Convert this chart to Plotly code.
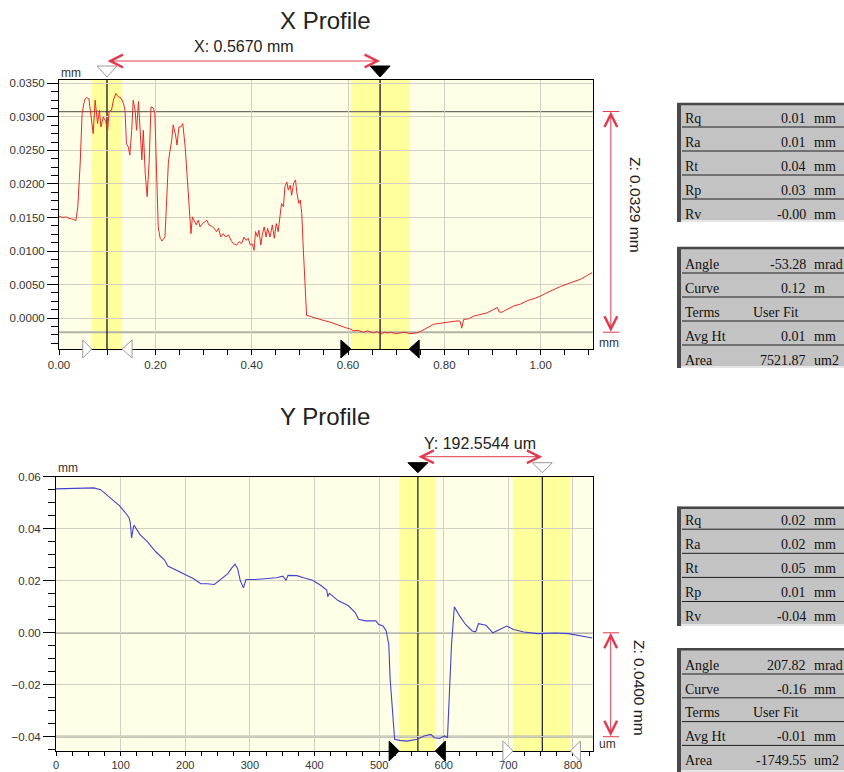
import plotly.graph_objects as go

W, H = 844, 772

# ---------------- data ----------------
x_pos_mm = [0.000, 0.008, 0.015, 0.019, 0.026, 0.031, 0.035, 0.039, 0.044, 0.048, 0.053, 0.057, 0.062, 0.066,
            0.071, 0.075, 0.080, 0.084, 0.087, 0.092, 0.097, 0.101, 0.104, 0.109, 0.113, 0.118, 0.123, 0.129,
            0.134, 0.137, 0.140, 0.144, 0.147, 0.151, 0.154, 0.158, 0.161, 0.165, 0.168, 0.172, 0.175, 0.179,
            0.183, 0.187, 0.191, 0.196, 0.199, 0.203, 0.206, 0.210, 0.214, 0.220, 0.224, 0.227, 0.230, 0.234,
            0.237, 0.242, 0.245, 0.249, 0.253, 0.257, 0.262, 0.266, 0.271, 0.274, 0.277, 0.281, 0.285, 0.289,
            0.293, 0.298, 0.303, 0.307, 0.311, 0.317, 0.322, 0.327, 0.331, 0.336, 0.341, 0.346, 0.352, 0.357,
            0.362, 0.369, 0.374, 0.379, 0.384, 0.388, 0.393, 0.397, 0.401, 0.405, 0.408, 0.412, 0.415, 0.419,
            0.422, 0.426, 0.430, 0.433, 0.438, 0.443, 0.447, 0.451, 0.455, 0.459, 0.462, 0.466, 0.469, 0.473,
            0.476, 0.480, 0.483, 0.487, 0.491, 0.494, 0.498, 0.501, 0.504, 0.507, 0.511, 0.514, 0.521, 0.527,
            0.532, 0.538, 0.545, 0.552, 0.559, 0.566, 0.573, 0.580, 0.587, 0.594, 0.604, 0.612, 0.620, 0.632,
            0.640, 0.653, 0.660, 0.668, 0.675, 0.681, 0.690, 0.698, 0.708, 0.718, 0.728, 0.736, 0.743, 0.750,
            0.757, 0.764, 0.771, 0.778, 0.788, 0.799, 0.809, 0.819, 0.828, 0.833, 0.836, 0.840, 0.850, 0.861,
            0.872, 0.880, 0.889, 0.900, 0.910, 0.914, 0.920, 0.930, 0.944, 0.958, 0.972, 0.986, 1.000, 1.013,
            1.027, 1.041, 1.055, 1.069, 1.083, 1.095, 1.107]
x_height_mm = [0.0152, 0.0150, 0.0151, 0.0149, 0.0148, 0.0147, 0.0145, 0.0166, 0.0231, 0.0305, 0.0325, 0.0329,
               0.0327, 0.0305, 0.0275, 0.0325, 0.0290, 0.0310, 0.0285, 0.0300, 0.0293, 0.0280, 0.0308, 0.0310,
               0.0325, 0.0335, 0.0330, 0.0328, 0.0320, 0.0310, 0.0260, 0.0255, 0.0243, 0.0280, 0.0325, 0.0310,
               0.0280, 0.0323, 0.0290, 0.0236, 0.0280, 0.0216, 0.0181, 0.0231, 0.0315, 0.0313, 0.0305, 0.0206,
               0.0136, 0.0119, 0.0115, 0.0121, 0.0181, 0.0231, 0.0248, 0.0265, 0.0288, 0.0273, 0.0258, 0.0285,
               0.0285, 0.0290, 0.0255, 0.0206, 0.0156, 0.0126, 0.0151, 0.0146, 0.0139, 0.0146, 0.0136, 0.0141,
               0.0144, 0.0146, 0.0139, 0.0137, 0.0134, 0.0129, 0.0134, 0.0121, 0.0126, 0.0121, 0.0124, 0.0116,
               0.0111, 0.0109, 0.0114, 0.0111, 0.0121, 0.0116, 0.0119, 0.0109, 0.0111, 0.0101, 0.0129, 0.0121,
               0.0131, 0.0109, 0.0124, 0.0136, 0.0121, 0.0134, 0.0121, 0.0139, 0.0119, 0.0141, 0.0129, 0.0151,
               0.0171, 0.0166, 0.0196, 0.0203, 0.0191, 0.0198, 0.0183, 0.0201, 0.0206, 0.0186, 0.0171, 0.0176,
               0.0156, 0.0106, 0.0046, 0.0004, 0.0003, 0.0001, 0.0000, -0.0001, -0.0003, -0.0004, -0.0005,
               -0.0007, -0.0008, -0.0011, -0.0013, -0.0014, -0.0016, -0.0019, -0.0018, -0.0021, -0.0019,
               -0.0022, -0.0020, -0.0024, -0.0021, -0.0022, -0.0021, -0.0023, -0.0022, -0.0021, -0.0023,
               -0.0023, -0.0022, -0.0020, -0.0017, -0.0014, -0.0011, -0.0009, -0.0008, -0.0007, -0.0006,
               -0.0005, -0.0004, -0.0005, -0.0015, -0.0002, -0.0001, 0.0003, 0.0005, 0.0006, 0.0008, 0.0012,
               0.0016, 0.0009, 0.0009, 0.0013, 0.0018, 0.0021, 0.0026, 0.0029, 0.0033, 0.0038, 0.0043, 0.0047,
               0.0051, 0.0055, 0.0058, 0.0063, 0.0068]

y_pos_um = [0, 15, 32, 45, 58.6, 69, 77, 88, 98.5, 106.5, 113, 115, 117, 120, 121, 130, 141, 154, 168, 173,
            186, 202, 213, 224, 234, 245, 255.5, 266, 271.5, 277, 281, 285, 290, 294, 309, 325, 341, 351, 356,
            359, 373, 383, 397, 410, 419, 420.5, 423, 436.5, 452.5, 463, 468, 479, 495, 499, 506, 511, 515,
            517, 520.5, 524, 532, 543, 559, 569.6, 580, 585.5, 593.5, 601.5, 605.8, 609.5, 612, 616.4, 622.8,
            633.5, 644, 649.4, 653.7, 665.4, 676, 686.7, 697.3, 708, 724, 745, 772, 793, 814, 830]
y_height_mm = [0.0554, 0.0555, 0.0556, 0.0557, 0.0558, 0.0551, 0.0534, 0.0508, 0.0489, 0.0465, 0.0443,
               0.0423, 0.0365, 0.0410, 0.0413, 0.0378, 0.0352, 0.0313, 0.0280, 0.0257, 0.0241, 0.0221,
               0.0208, 0.0189, 0.0189, 0.0186, 0.0208, 0.0228, 0.0248, 0.0264, 0.0248, 0.0202, 0.0173,
               0.0205, 0.0205, 0.0208, 0.0212, 0.0218, 0.0202, 0.0221, 0.0220, 0.0212, 0.0202, 0.0182,
               0.0165, 0.0139, 0.0152, 0.0124, 0.0104, 0.0078, 0.0052, 0.0046, 0.0046, 0.0033, 0.0026,
               0.0007, -0.0046, -0.0176, -0.0306, -0.0410, -0.0414, -0.0417, -0.0410, -0.0397, -0.0391,
               -0.0404, -0.0407, -0.0397, -0.0404, -0.0215, -0.0046, 0.0100, 0.0072, 0.0033, 0.0007,
               0.0004, 0.0035, 0.0029, 0.0000, 0.0013, 0.0026, 0.0013, 0.0003, -0.0003, -0.0001, -0.0003,
               -0.0013, -0.0020]

x_cursors = [0.0996, 0.6666]
x_bands = [(0.068, 0.131), (0.606, 0.727)]
x_refs = [0.0308, -0.0021]
x_delta_text = "X: 0.5670 mm"
x_z_text = "Z: 0.0329 mm"

y_cursors = [560.0, 752.55]
y_bands = [(531.0, 587.0), (707.0, 796.0)]
y_refs = [0.0, -0.0400]
y_delta_text = "Y: 192.5544 um"
y_z_text = "Z: 0.0400 mm"

x_stat_labels = ["Rq", "Ra", "Rt", "Rp", "Rv"]
x_stat_values = ["0.01", "0.01", "0.04", "0.03", "-0.00"]
x_stat_units = ["mm", "mm", "mm", "mm", "mm"]
x_fit_labels = ["Angle", "Curve", "Terms", "Avg Ht", "Area"]
x_fit_values = ["-53.28", "0.12", "User Fit", "0.01", "7521.87"]
x_fit_units = ["mrad", "m", "", "mm", "um2"]

y_stat_labels = ["Rq", "Ra", "Rt", "Rp", "Rv"]
y_stat_values = ["0.02", "0.02", "0.05", "0.01", "-0.04"]
y_stat_units = ["mm", "mm", "mm", "mm", "mm"]
y_fit_labels = ["Angle", "Curve", "Terms", "Avg Ht", "Area"]
y_fit_values = ["207.82", "-0.16", "User Fit", "-0.01", "-1749.55"]
y_fit_units = ["mrad", "mm", "", "mm", "um2"]

# ---------------- style ----------------
RED = "#E23A4E"
SANS = "Liberation Sans, Arial, sans-serif"
SERIF = "Liberation Serif, Times New Roman, serif"
PLOT_BG = "#FFFFE8"
BAND = "#FFFF9C"
GRID = "#CFCFC2"


def px(v):
    # window pixel x -> paper fraction
    return v / W


def py(v):
    # window pixel y -> paper fraction
    return 1 - v / H


fig = go.Figure()
fig.add_trace(go.Scatter(x=x_pos_mm, y=x_height_mm, mode="lines", line=dict(color="#E82A2A", width=1),
                         xaxis="x", yaxis="y", hoverinfo="skip", showlegend=False))
fig.add_trace(go.Scatter(x=y_pos_um, y=y_height_mm, mode="lines", line=dict(color="#4343CC", width=1.1),
                         xaxis="x2", yaxis="y2", hoverinfo="skip", showlegend=False))

axis_common = dict(showline=True, mirror=True, linecolor="black", linewidth=1, ticks="outside",
                   tickcolor="black", showgrid=True, gridcolor=GRID, gridwidth=1, zeroline=False,
                   automargin=False, tickfont=dict(family=SANS, size=11.5, color="#333333"),
                   fixedrange=True)

YP_TOP, YP_BOT = 476.7, 751.0

fig.update_layout(
    template="none",
    width=W, height=H, margin=dict(l=0, r=0, t=0, b=0, pad=0, autoexpand=False),
    paper_bgcolor="white", plot_bgcolor=PLOT_BG, showlegend=False,
    font=dict(family=SANS, size=12, color="#222222"),
    xaxis=dict(axis_common, domain=[px(59), px(592.7)], anchor="y", range=[0, 1.108], tick0=0, dtick=0.2,
               tickformat=".2f", ticklen=5,
               minor=dict(dtick=0.05, tick0=0, ticks="outside", ticklen=5, tickcolor="black", showgrid=False)),
    yaxis=dict(axis_common, domain=[py(349), py(80)], anchor="x", range=[-0.0046, 0.0355], tick0=0,
               dtick=0.005, tickformat=".4f", ticklen=11,
               minor=dict(dtick=0.00125, tick0=0, ticks="outside", ticklen=7, tickcolor="black",
                          showgrid=False)),
    xaxis2=dict(axis_common, domain=[px(56), px(592.7)], anchor="y2", range=[0, 830.5], tick0=0, dtick=100,
                ticklen=4, tickfont=dict(family=SANS, size=11, color="#333333"),
                minor=dict(dtick=25, tick0=0, ticks="outside", ticklen=4, tickcolor="black", showgrid=False)),
    yaxis2=dict(axis_common, domain=[py(YP_BOT), py(YP_TOP)], anchor="x2", range=[-0.0455, 0.0601], tick0=0,
                dtick=0.02, tickformat=".2f", ticklen=12,
                minor=dict(dtick=0.005, tick0=0, ticks="outside", ticklen=7, tickcolor="black",
                           showgrid=False)),
)

shapes = []
annotations = []


def profile_lines(xa, ya, cursors, bands, refs, cursor_color):
    xd = xa + " domain"
    yd = ya + " domain"
    for (b0, b1) in bands:
        shapes.append(dict(type="rect", xref=xa, yref=yd, x0=b0, x1=b1, y0=0, y1=1, fillcolor=BAND,
                           line=dict(width=0), layer="below"))
    shapes.append(dict(type="line", xref=xd, yref=ya, x0=0, x1=1, y0=refs[0], y1=refs[0],
                       line=dict(color="#6E6E66", width=1.3), layer="below"))
    shapes.append(dict(type="line", xref=xd, yref=ya, x0=0, x1=1, y0=refs[1], y1=refs[1],
                       line=dict(color="#B2B2A6", width=2.2), layer="below"))
    for c in cursors:
        shapes.append(dict(type="line", xref=xa, yref=yd, x0=c, x1=c, y0=0, y1=1,
                           line=dict(color=cursor_color, width=1.3), layer="below"))


def tri(xref, yref, xanchor, yanchor, path, fill, outline):
    shapes.append(dict(type="path", xref=xref, yref=yref, xsizemode="pixel", ysizemode="pixel",
                       xanchor=xanchor, yanchor=yanchor, path=path, fillcolor=fill,
                       line=dict(color=outline, width=1), layer="above"))


DOWN = "M -10 14 L 10 14 L 0 3 Z"

# ---- X profile ----
profile_lines("x", "y", x_cursors, x_bands, x_refs, "#15152E")
tri("x", "y domain", x_cursors[0], 1, DOWN, "white", "#9A9A9A")
tri("x", "y domain", x_cursors[1], 1, DOWN, "black", "black")
tri("x", "y domain", x_bands[0][0], 0, "M -9 9 L 0 0 L -9 -9 Z", "white", "#9A9A9A")
tri("x", "y domain", x_bands[0][1], 0, "M 10 9 L 0 0 L 10 -9 Z", "white", "#9A9A9A")
tri("x", "y domain", x_bands[1][0], 0, "M -10 9 L 0 0 L -10 -9 Z", "black", "black")
tri("x", "y domain", x_bands[1][1], 0, "M 10 9 L 0 0 L 10 -9 Z", "black", "black")

# ---- Y profile ----
profile_lines("x2", "y2", y_cursors, y_bands, y_refs, "#2A2A3A")
tri("x2", "y2 domain", y_cursors[0], 1, "M -10 14 L 10 14 L 0 4 Z", "black", "black")
tri("x2", "y2 domain", y_cursors[1], 1, "M -10 14 L 10 14 L 0 4 Z", "white", "#9A9A9A")
tri("x2", "y2 domain", y_bands[0][0], 0, "M -10 10 L 0 0 L -10 -10 Z", "black", "black")
tri("x2", "y2 domain", y_bands[0][1], 0, "M 10 10 L 0 0 L 10 -10 Z", "black", "black")
tri("x2", "y2 domain", y_bands[1][0], 0, "M -10 10 L 0 0 L -10 -10 Z", "white", "#9A9A9A")
tri("x2", "y2 domain", y_bands[1][1], 0, "M 10 10 L 0 0 L 10 -10 Z", "white", "#9A9A9A")


def arrow(xref, yref, x, y, ax, ay):
    annotations.append(dict(xref=xref, yref=yref, x=x, y=y, axref=xref, ayref=yref, ax=ax, ay=ay, text="",
                            showarrow=True, arrowhead=5, startarrowhead=5, arrowside="end+start",
                            arrowsize=2.5, startarrowsize=2.5, arrowwidth=1, arrowcolor=RED,
                            standoff=0, startstandoff=0, borderpad=0))


def text(x, y, s, size, xref="paper", yref="paper", xanchor="center", angle=0, family=SANS,
         color="#222222"):
    annotations.append(dict(xref=xref, yref=yref, x=x, y=y, text=s, showarrow=False, xanchor=xanchor,
                            yanchor="middle", textangle=angle, font=dict(family=family, size=size,
                                                                         color=color)))


yp_h = YP_BOT - YP_TOP
# horizontal delta arrows
arrow("x", "y domain", x_cursors[1], 1.0706, x_cursors[0], 1.0706)
text((x_cursors[0] + x_cursors[1]) / 2, 1.126, x_delta_text, 16, xref="x", yref="y domain")
arrow("x2", "y2 domain", y_cursors[1], 1 + 20 / yp_h, y_cursors[0], 1 + 20 / yp_h)
text((y_cursors[0] + y_cursors[1]) / 2, 1 + 33.7 / yp_h, y_delta_text, 16, xref="x2", yref="y2 domain")

# vertical Z arrows with caps
arrow("x domain", "y", 1.034, x_refs[0], 1.034, x_refs[1])
for r in x_refs:
    shapes.append(dict(type="line", xref="x domain", yref="y", x0=1.019, x1=1.050, y0=r, y1=r,
                       line=dict(color=RED, width=1)))
arrow("x2 domain", "y2", 1.0335, y_refs[0], 1.0335, y_refs[1])
for r in y_refs:
    shapes.append(dict(type="line", xref="x2 domain", yref="y2", x0=1.019, x1=1.049, y0=r, y1=r,
                       line=dict(color=RED, width=1)))

text(px(636), py(205), x_z_text, 15.5, angle=90)
text(px(640), py(688), y_z_text, 15.5, angle=90)

# titles and unit labels
text(px(325), py(20.5), "X Profile", 24)
text(px(325), py(416), "Y Profile", 24)
text(px(59), py(73), "mm", 12, xanchor="left", color="#333333")
text(px(609), py(343), "mm", 12, color="#333333")
text(px(56), py(468), "mm", 12, xanchor="left", color="#333333")
text(px(607), py(744), "um", 12, color="#333333")


# ---------------- tables ----------------
def table(top, bottom, first_row, step, labels, values, units):
    right = 1.0
    shapes.append(dict(type="rect", xref="paper", yref="paper", x0=px(677), x1=right, y0=py(bottom),
                       y1=py(top), fillcolor="#C3C3C3", line=dict(width=0), layer="above"))
    shapes.append(dict(type="line", xref="paper", yref="paper", x0=px(677), x1=right, y0=py(top + 1),
                       y1=py(top + 1), line=dict(color="#454545", width=2.5), layer="above"))
    shapes.append(dict(type="line", xref="paper", yref="paper", x0=px(679), x1=px(679), y0=py(bottom),
                       y1=py(top), line=dict(color="#4A4A4A", width=4), layer="above"))
    shapes.append(dict(type="line", xref="paper", yref="paper", x0=px(681), x1=right, y0=py(bottom - 1),
                       y1=py(bottom - 1), line=dict(color="#E6E6E6", width=2), layer="above"))
    for i, (lab, val, unit) in enumerate(zip(labels, values, units)):
        yc = first_row + i * step
        if i < len(labels) - 1:
            shapes.append(dict(type="line", xref="paper", yref="paper", x0=px(682), x1=right,
                               y0=py(yc + 8.7), y1=py(yc + 8.7), line=dict(color="#1E1E1E", width=1),
                               layer="above"))
        text(px(683), py(yc), lab, 14, xanchor="left", family=SERIF, color="#111111")
        if val == "User Fit":
            text(px(751), py(yc), val, 14, xanchor="left", family=SERIF, color="#111111")
        else:
            text(px(807.5), py(yc), val, 14, xanchor="right", family=SERIF, color="#111111")
        if unit:
            text(px(812), py(yc), unit, 14, xanchor="left", family=SERIF, color="#111111")


table(103, 222, 118.3, 24.0, x_stat_labels, x_stat_values, x_stat_units)
table(247, 368, 264.3, 24.0, x_fit_labels, x_fit_values, x_fit_units)
table(506.7, 626, 520.5, 24.1, y_stat_labels, y_stat_values, y_stat_units)
table(648.3, 772, 665.3, 23.8, y_fit_labels, y_fit_values, y_fit_units)

fig.update_layout(shapes=shapes, annotations=annotations)
fig.write_html("out.html", config={"displayModeBar": False, "responsive": False},
               post_script="document.body.style.margin='0px';document.body.style.overflow='hidden';")
